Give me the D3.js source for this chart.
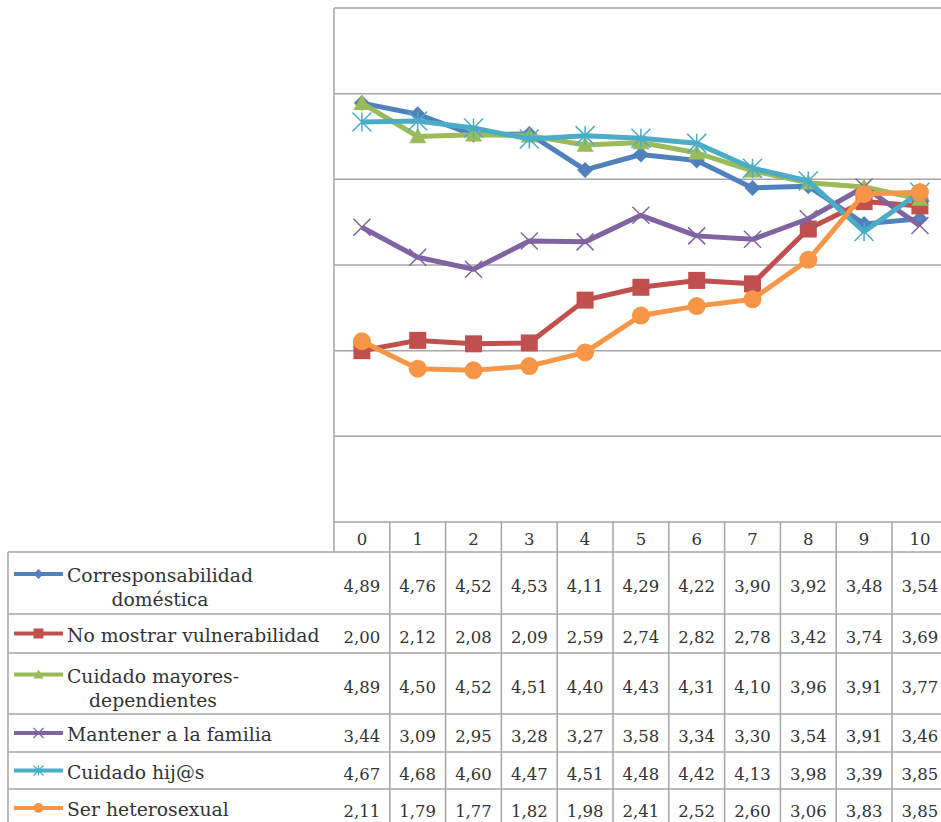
<!DOCTYPE html>
<html>
<head>
<meta charset="utf-8">
<script src="https://cdn.jsdelivr.net/npm/d3@7"></script>
<style>
  html, body { margin: 0; padding: 0; background: #fff; }
  svg { display: block; }
</style>
</head>
<body>
<svg id="chart" width="941" height="822"></svg>
<script>
// Categories (x axis) and the six series shown in the chart and its data table
const categories = ["0", "1", "2", "3", "4", "5", "6", "7", "8", "9", "10"];

const seriesNames = [
  ["Corresponsabilidad", "doméstica"],
  ["No mostrar vulnerabilidad"],
  ["Cuidado mayores-", "dependientes"],
  ["Mantener a la familia"],
  ["Cuidado hij@s"],
  ["Ser heterosexual"]
];

const corresponsabilidad = [4.89, 4.76, 4.52, 4.53, 4.11, 4.29, 4.22, 3.90, 3.92, 3.48, 3.54];
const noMostrarVulnerabilidad = [2.00, 2.12, 2.08, 2.09, 2.59, 2.74, 2.82, 2.78, 3.42, 3.74, 3.69];
const cuidadoMayores = [4.89, 4.50, 4.52, 4.51, 4.40, 4.43, 4.31, 4.10, 3.96, 3.91, 3.77];
const mantenerFamilia = [3.44, 3.09, 2.95, 3.28, 3.27, 3.58, 3.34, 3.30, 3.54, 3.91, 3.46];
const cuidadoHijos = [4.67, 4.68, 4.60, 4.47, 4.51, 4.48, 4.42, 4.13, 3.98, 3.39, 3.85];
const serHeterosexual = [2.11, 1.79, 1.77, 1.82, 1.98, 2.41, 2.52, 2.60, 3.06, 3.83, 3.85];

const yTicks = [0, 1, 2, 3, 4, 5, 6];

const seriesValues = [corresponsabilidad, noMostrarVulnerabilidad, cuidadoMayores,
                      mantenerFamilia, cuidadoHijos, serHeterosexual];
const colors = ["#4F81BD", "#C0504D", "#9BBB59", "#8064A2", "#4BACC6", "#F79646"];
const markers = ["diamond", "square", "triangle", "x", "star", "circle"];

const series = seriesNames.map((name, i) => ({
  name, values: seriesValues[i], color: colors[i], marker: markers[i]
}));

const svg = d3.select("#chart");
const FONT = "'DejaVu Serif', 'Liberation Serif', serif";
const textColor = "#333";
const gridColor = "#a6a6a6";

// Layout of the plot area and data table
const plotLeft = 334, plotTop = 8, plotBottom = 522;
const colW = 55.8;
const tableLeft = 8;
const headerBottom = 552;
const rowEdges = [552, 614, 653, 714, 752, 789, 827];

const x = d3.scaleBand()
  .domain(categories)
  .range([plotLeft, plotLeft + colW * categories.length])
  .paddingInner(0).paddingOuter(0);
const cx = c => x(c) + x.bandwidth() / 2;

const y = d3.scaleLinear().domain([0, 6]).range([plotBottom, plotTop]);

// Horizontal gridlines
svg.append("g")
  .selectAll("line")
  .data(yTicks.filter(t => t > 0))
  .join("line")
  .attr("x1", plotLeft).attr("x2", 941)
  .attr("y1", d => y(d)).attr("y2", d => y(d))
  .attr("stroke", gridColor).attr("stroke-width", 1.5);

// Vertical axis line
svg.append("line")
  .attr("x1", plotLeft).attr("x2", plotLeft)
  .attr("y1", plotTop).attr("y2", headerBottom)
  .attr("stroke", gridColor).attr("stroke-width", 1.5);

// Data table grid
const table = svg.append("g");
// header row top (category axis line)
table.append("line")
  .attr("x1", plotLeft).attr("x2", 941)
  .attr("y1", plotBottom).attr("y2", plotBottom)
  .attr("stroke", gridColor).attr("stroke-width", 1.5);
// row lines
table.selectAll("line.row")
  .data(rowEdges)
  .join("line")
  .attr("class", "row")
  .attr("x1", tableLeft).attr("x2", 941)
  .attr("y1", d => d).attr("y2", d => d)
  .attr("stroke", gridColor).attr("stroke-width", 1.5);
// left border of legend column
table.append("line")
  .attr("x1", tableLeft).attr("x2", tableLeft)
  .attr("y1", headerBottom).attr("y2", 822)
  .attr("stroke", gridColor).attr("stroke-width", 1.5);
// column separators
table.selectAll("line.col")
  .data(categories)
  .join("line")
  .attr("class", "col")
  .attr("x1", d => x(d) + x.bandwidth()).attr("x2", d => x(d) + x.bandwidth())
  .attr("y1", plotBottom).attr("y2", 822)
  .attr("stroke", gridColor).attr("stroke-width", 1.5);

// Category labels in header row
table.selectAll("text.cat")
  .data(categories)
  .join("text")
  .attr("class", "cat")
  .attr("x", d => cx(d))
  .attr("y", (plotBottom + headerBottom) / 2 + 8)
  .attr("text-anchor", "middle")
  .attr("font-family", FONT).attr("font-size", 16.5)
  .attr("fill", textColor)
  .text(d => d);

// Marker path generator
function markerPath(type, s) {
  const h = s / 2;
  switch (type) {
    case "diamond": return `M0,${-h}L${h},0L0,${h}L${-h},0Z`;
    case "square": return `M${-h},${-h}H${h}V${h}H${-h}Z`;
    case "triangle": return `M0,${-h}L${h},${h * 0.8}L${-h},${h * 0.8}Z`;
    case "x": return `M${-h},${-h}L${h},${h}M${-h},${h}L${h},${-h}`;
    case "star": return `M${-h},${-h}L${h},${h}M${-h},${h}L${h},${-h}M0,${-h}V${h}`;
    case "circle": return d3.symbol(d3.symbolCircle, s * s * Math.PI / 4)();
  }
}
function drawMarker(g, type, color, s, lw) {
  const open = type === "x" || type === "star";
  g.append("path")
    .attr("d", markerPath(type, s))
    .attr("fill", open ? "none" : color)
    .attr("stroke", color)
    .attr("stroke-width", open ? lw : 0);
}

// Series lines and markers
const line = d3.line().x((d, i) => cx(categories[i])).y(d => y(d));
const markerSize = { diamond: 16, square: 17, triangle: 17, x: 17, star: 19, circle: 18 };

series.forEach(s => {
  const g = svg.append("g");
  g.append("path")
    .datum(s.values)
    .attr("d", line)
    .attr("fill", "none")
    .attr("stroke", s.color)
    .attr("stroke-width", 5)
    .attr("stroke-linejoin", "round");
  s.values.forEach((v, i) => {
    const m = g.append("g").attr("transform", `translate(${cx(categories[i])},${y(v)})`);
    drawMarker(m, s.marker, s.color, markerSize[s.marker], 1.5);
  });
});

// Table rows: legend key, series name, values
series.forEach((s, r) => {
  const top = rowEdges[r], bottom = rowEdges[r + 1];
  const mid = (top + bottom) / 2;
  const row = svg.append("g");
  const twoLines = s.name.length > 1;
  const firstBase = twoLines ? mid - 1 : mid + 8;

  // legend key
  const keyY = firstBase - 8;
  row.append("line")
    .attr("x1", 14).attr("x2", 63)
    .attr("y1", keyY).attr("y2", keyY)
    .attr("stroke", s.color).attr("stroke-width", 4);
  const km = row.append("g").attr("transform", `translate(38.5,${keyY})`);
  drawMarker(km, s.marker, s.color, 10, 1.2);

  // series name, wrapped lines centred on the first line
  const label = row.append("text")
    .attr("font-family", FONT).attr("font-size", 18.8)
    .attr("fill", textColor);
  if (!twoLines) {
    label.attr("x", 67).attr("y", firstBase).text(s.name[0]);
  } else {
    const first = label.append("tspan").attr("x", 67).attr("y", firstBase).text(s.name[0]);
    const w = first.node().getComputedTextLength();
    label.attr("text-anchor", "middle");
    first.attr("x", 67 + w / 2);
    label.append("tspan").attr("x", 67 + w / 2).attr("y", firstBase + 24).text(s.name[1]);
  }

  // value cells
  row.selectAll("text.val")
    .data(s.values)
    .join("text")
    .attr("class", "val")
    .attr("x", (d, i) => cx(categories[i]))
    .attr("y", mid + 9)
    .attr("text-anchor", "middle")
    .attr("font-family", FONT).attr("font-size", 16.5)
    .attr("fill", textColor)
    .text(d => d.toFixed(2).replace(".", ","));
});
</script>
</body>
</html>
